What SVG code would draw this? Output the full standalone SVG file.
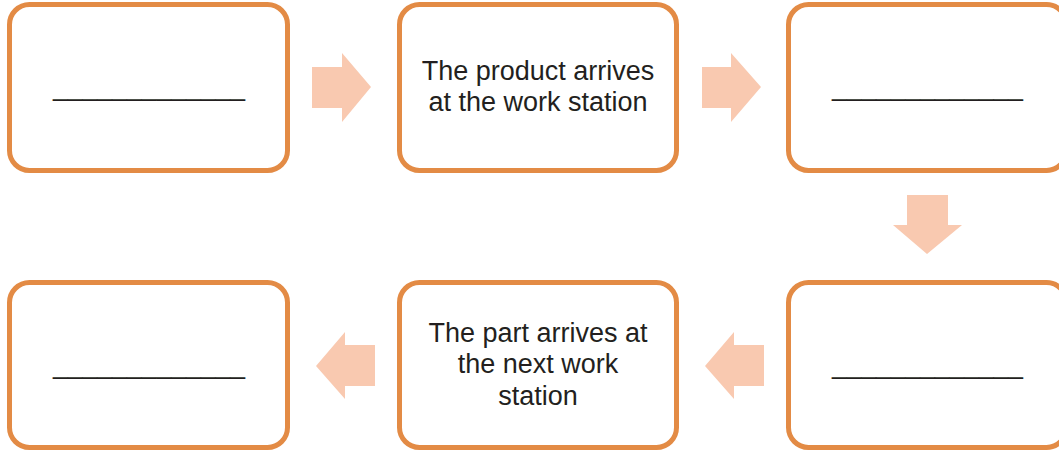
<svg xmlns="http://www.w3.org/2000/svg" width="1059" height="452" viewBox="0 0 1059 452">
<style>
.box{fill:#fff;stroke:#E38B45;stroke-width:5}
.arr{fill:#F9C9B0}
.t{font-family:"Liberation Sans",Arial,sans-serif;font-size:27px;fill:#231F20;text-anchor:middle}
.u{font-family:"Liberation Sans",Arial,sans-serif;font-size:26px;fill:#231F20}
</style>
<rect width="1059" height="452" fill="#fff"/>
<g id="connectors">
<polygon class="arr" points="312,67 342,67 342,53 371,87 342,122 342,108 312,108"/>
<polygon class="arr" points="702,67 731,67 731,53 761,87 731,122 731,108 702,108"/>
<polygon class="arr" points="907,195 948,195 948,225 962,225 927,254 893,225 907,225"/>
<polygon class="arr" points="764,345 734,345 734,332 705,366 734,399 734,386 764,386"/>
<polygon class="arr" points="375,345 345,345 345,332 316,366 345,399 345,386 375,386"/>
</g>
<g id="node1">
<rect class="box" x="9.5" y="4.5" width="278" height="166" rx="20"/>
<text class="u" x="53" y="96" textLength="192" lengthAdjust="spacingAndGlyphs">_____________</text>
</g>
<g id="node2">
<rect class="box" x="399.5" y="4.5" width="277" height="166" rx="20"/>
<text class="t" x="538" y="80">The product arrives</text>
<text class="t" x="538" y="111">at the work station</text>
</g>
<g id="node3">
<rect class="box" x="788.5" y="4.5" width="278" height="166" rx="20"/>
<text class="u" x="832" y="96" textLength="191" lengthAdjust="spacingAndGlyphs">_____________</text>
</g>
<g id="node4">
<rect class="box" x="788.5" y="282.5" width="278" height="165" rx="20"/>
<text class="u" x="832" y="374" textLength="191" lengthAdjust="spacingAndGlyphs">_____________</text>
</g>
<g id="node5">
<rect class="box" x="399.5" y="282.5" width="277" height="165" rx="20"/>
<text class="t" x="538" y="342">The part arrives at</text>
<text class="t" x="538" y="373">the next work</text>
<text class="t" x="538" y="405">station</text>
</g>
<g id="node6">
<rect class="box" x="9.5" y="282.5" width="278" height="165" rx="20"/>
<text class="u" x="53" y="374" textLength="192" lengthAdjust="spacingAndGlyphs">_____________</text>
</g>
</svg>
